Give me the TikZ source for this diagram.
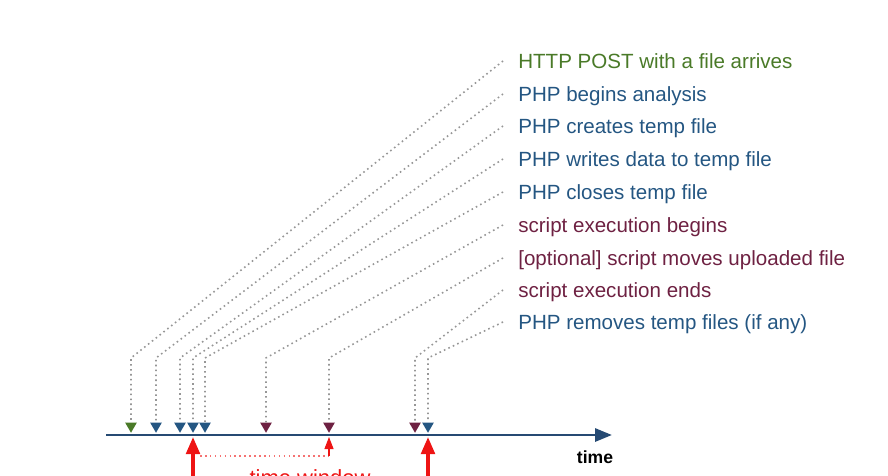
\documentclass[tikz,border=0pt]{standalone}
\usepackage{fontspec}
\setmainfont{Liberation Sans}
\usetikzlibrary{arrows.meta,shapes.geometric}
\definecolor{postgreen}{RGB}{74,122,40}
\definecolor{phpblue}{RGB}{36,86,130}
\definecolor{scriptred}{RGB}{110,33,66}
\definecolor{axisblue}{RGB}{38,74,115}
\definecolor{linkgray}{RGB}{150,150,150}
\definecolor{alarmred}{RGB}{238,20,20}
\begin{document}
\begin{tikzpicture}[
  x=0.02cm,
  y=-0.02cm,
  event/.style={anchor=west,inner xsep=8.5pt,inner ysep=0pt,text height=9pt,text depth=1pt,font=\fontsize{11.7}{14}\selectfont,text=#1},
  stamp/.style={regular polygon,regular polygon sides=3,shape border rotate=180,fill=#1,inner sep=0pt,minimum size=0.27cm},
  link/.style={draw=linkgray,line width=0.9pt,dash pattern=on 0.9pt off 1.9pt},
  axis/.style={draw=axisblue,line width=1.7pt,-{Triangle[length=0.34cm,width=0.26cm]}},
  window/.style={draw=alarmred,line width=2pt,-{Triangle[length=0.34cm,width=0.27cm]}}
]
  \useasboundingbox (0,0) rectangle (888,476);
  \clip (0,0) rectangle (888,476);

  % events
  \node[event=postgreen] (post) at (503,61) {HTTP POST with a file arrives};
  \node[event=phpblue] (begin) at (503,94) {PHP begins analysis};
  \node[event=phpblue] (create) at (503,126) {PHP creates temp file};
  \node[event=phpblue] (write) at (503,159) {PHP writes data to temp file};
  \node[event=phpblue] (close) at (503,192) {PHP closes temp file};
  \node[event=scriptred] (start) at (503,225) {script execution begins};
  \node[event=scriptred] (move) at (503,258) {[optional] script moves uploaded file};
  \node[event=scriptred] (stop) at (503,290) {script execution ends};
  \node[event=phpblue] (clean) at (503,322) {PHP removes temp files (if any)};

  % time line
  \coordinate (t0) at (106,435);
  \coordinate (t1) at (612,435);
  \draw[axis] (t0) -- (t1);
  \node[font=\bfseries\fontsize{10}{12}\selectfont] (time) at (595,457) {time};

  % marks on the time line
  \node[stamp=postgreen] (m1) at (131,426) {};
  \node[stamp=phpblue] (m2) at (156,426) {};
  \node[stamp=phpblue] (m3) at (180,426) {};
  \node[stamp=phpblue] (m4) at (193,426) {};
  \node[stamp=phpblue] (m5) at (205,426) {};
  \node[stamp=scriptred] (m6) at (266,426) {};
  \node[stamp=scriptred] (m7) at (329,426) {};
  \node[stamp=scriptred] (m8) at (415,426) {};
  \node[stamp=phpblue] (m9) at (428,426) {};

  \coordinate (k1) at (131,358);
  \coordinate (k2) at (156,358);
  \coordinate (k3) at (180,358);
  \coordinate (k4) at (193,358);
  \coordinate (k5) at (205,358);
  \coordinate (k6) at (266,358);
  \coordinate (k7) at (329,358);
  \coordinate (k8) at (415,358);
  \coordinate (k9) at (428,358);

  \draw[link] (post.west) -- (k1) -- (m1.north);
  \draw[link] (begin.west) -- (k2) -- (m2.north);
  \draw[link] (create.west) -- (k3) -- (m3.north);
  \draw[link] (write.west) -- (k4) -- (m4.north);
  \draw[link] (close.west) -- (k5) -- (m5.north);
  \draw[link] (start.west) -- (k6) -- (m6.north);
  \draw[link] (move.west) -- (k7) -- (m7.north);
  \draw[link] (stop.west) -- (k8) -- (m8.north);
  \draw[link] (clean.west) -- (k9) -- (m9.north);

  % time window
  \coordinate (w0) at (193,490);
  \coordinate (w1) at (193,437);
  \coordinate (w2) at (428,490);
  \coordinate (w3) at (428,437);
  \coordinate (w4) at (200,456);
  \coordinate (w5) at (329,456);
  \coordinate (w6) at (329,437);
  \draw[window] (w0) -- (w1);
  \draw[window] (w2) -- (w3);
  \draw[alarmred!60,line width=0.9pt,dash pattern=on 0.9pt off 1.9pt] (w4) -- (w5);
  \draw[alarmred,line width=0.6pt,-{Triangle[length=0.24cm,width=0.18cm]}] (w5) -- (w6);
  \node[text=alarmred,font=\fontsize{12.5}{15}\selectfont,anchor=base] (span) at (310,485) {time window};
\end{tikzpicture}
\end{document}
